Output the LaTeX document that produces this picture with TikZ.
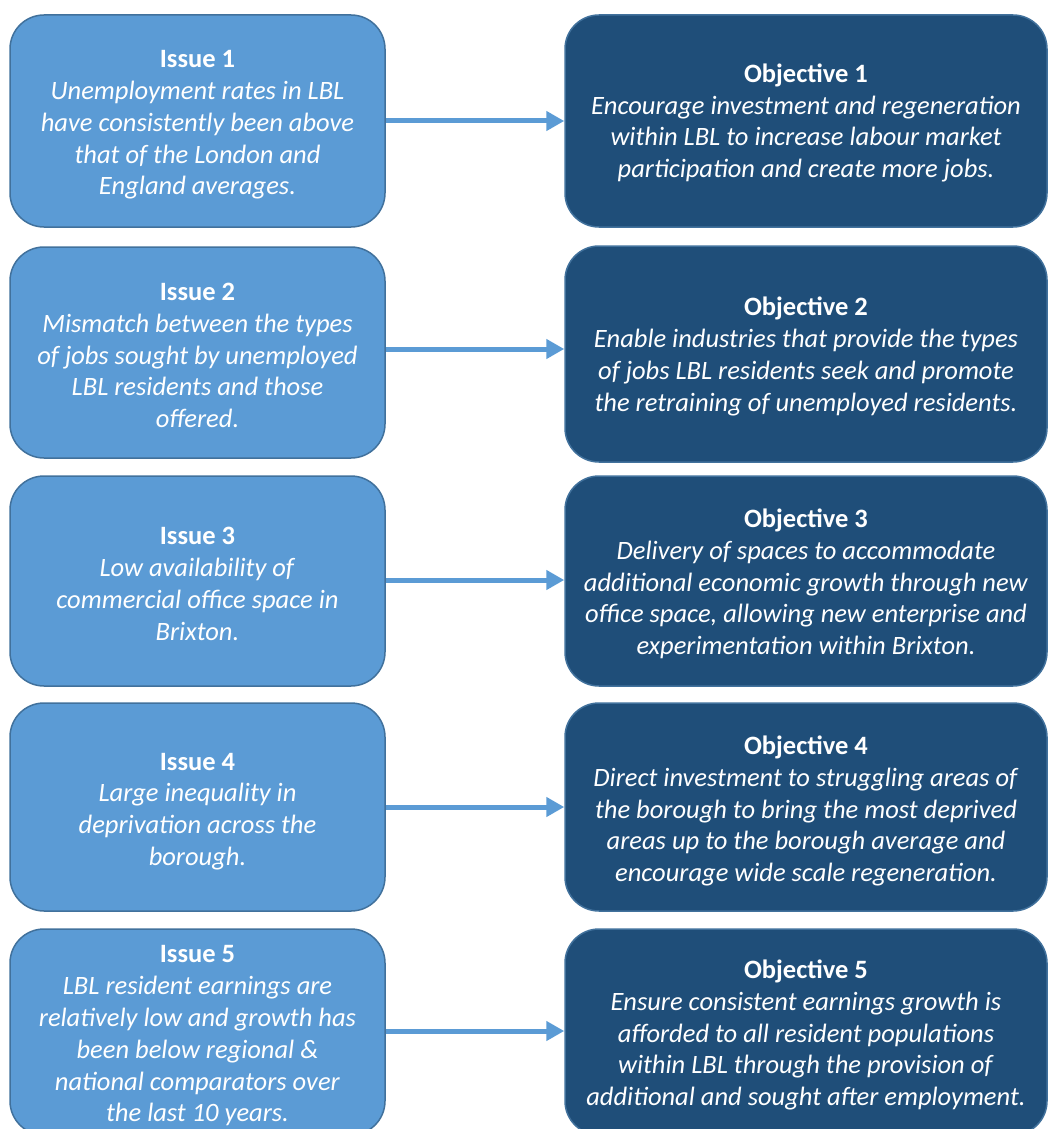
\documentclass[tikz,border=0pt]{standalone}
\usepackage{fontspec}
\setmainfont{Carlito}
\usetikzlibrary{arrows.meta}
\definecolor{issuefill}{HTML}{5B9BD5}
\definecolor{issueline}{HTML}{41719C}
\definecolor{objfill}{HTML}{1F4E79}
\definecolor{objline}{HTML}{41719C}
\tikzset{
  issuebox/.style={draw=issueline, line width=1.5pt, fill=issuefill, rounded corners=34pt,
    minimum width=375pt, inner sep=0pt},
  objbox/.style={draw=objline, line width=1.5pt, fill=objfill, rounded corners=34pt,
    minimum width=482pt, inner sep=0pt},
  boxtext/.style={text=white, align=center, inner sep=0pt,
    font=\fontsize{26.5}{31.8}\selectfont},
  link/.style={draw=issuefill, line width=5pt, -{Triangle[length=18pt,width=19pt]}}
}
\begin{document}
\begin{tikzpicture}[x=1pt,y=-1pt]
\useasboundingbox (0,0) rectangle (1048,1129);
\begin{scope}
\clip (0,0) rectangle (1048,1129);
% boxes
\node[issuebox, minimum height=212pt] (i1) at (197.5,121) {};
\node[objbox, minimum height=212pt] (o1) at (806,121) {};
\node[issuebox, minimum height=211pt] (i2) at (197.5,352.5) {};
\node[objbox, minimum height=216pt] (o2) at (806,354) {};
\node[issuebox, minimum height=210pt] (i3) at (197.5,581) {};
\node[objbox, minimum height=210pt] (o3) at (806,581) {};
\node[issuebox, minimum height=208pt] (i4) at (197.5,807) {};
\node[objbox, minimum height=208pt] (o4) at (806,807) {};
\node[issuebox, minimum height=206pt] (i5) at (197.5,1032) {};
\node[objbox, minimum height=206pt] (o5) at (806,1032) {};
% texts
\node[boxtext] (i1t) at ([yshift=-4pt]i1.center)
  {\textbf{Issue 1}\\ \textit{Unemployment rates in LBL}\\ \textit{have consistently been above}\\ \textit{that of the London and}\\ \textit{England averages.}};
\node[boxtext] (o1t) at ([yshift=-2pt]o1.center)
  {\textbf{Objective 1}\\ \textit{Encourage investment and regeneration}\\ \textit{within LBL to increase labour market}\\ \textit{participation and create more jobs.}};
\node[boxtext] (i2t) at ([yshift=-3pt]i2.center)
  {\textbf{Issue 2}\\ \textit{Mismatch between the types}\\ \textit{of jobs sought by unemployed}\\ \textit{LBL residents and those}\\ \textit{offered.}};
\node[boxtext] (o2t) at ([yshift=-2.5pt]o2.center)
  {\textbf{Objective 2}\\ \textit{Enable industries that provide the types}\\ \textit{of jobs LBL residents seek and promote}\\ \textit{the retraining of unemployed residents.}};
\node[boxtext] (i3t) at ([yshift=-3pt]i3.center)
  {\textbf{Issue 3}\\ \textit{Low availability of}\\ \textit{commercial office space in}\\ \textit{Brixton.}};
\node[boxtext] (o3t) at ([yshift=-3pt]o3.center)
  {\textbf{Objective 3}\\ \textit{Delivery of spaces to accommodate}\\ \textit{additional economic growth through new}\\ \textit{office space, allowing new enterprise and}\\ \textit{experimentation within Brixton.}};
\node[boxtext] (i4t) at ([yshift=-4.5pt]i4.center)
  {\textbf{Issue 4}\\ \textit{Large inequality in}\\ \textit{deprivation across the}\\ \textit{borough.}};
\node[boxtext] (o4t) at ([yshift=-4pt]o4.center)
  {\textbf{Objective 4}\\ \textit{Direct investment to struggling areas of}\\ \textit{the borough to bring the most deprived}\\ \textit{areas up to the borough average and}\\ \textit{encourage wide scale regeneration.}};
\node[boxtext] (i5t) at ([yshift=-4pt]i5.center)
  {\textbf{Issue 5}\\ \textit{LBL resident earnings are}\\ \textit{relatively low and growth has}\\ \textit{been below regional \&}\\ \textit{national comparators over}\\ \textit{the last 10 years.}};
\node[boxtext] (o5t) at ([yshift=-3pt]o5.center)
  {\textbf{Objective 5}\\ \textit{Ensure consistent earnings growth is}\\ \textit{afforded to all resident populations}\\ \textit{within LBL through the provision of}\\ \textit{additional and sought after employment.}};
\end{scope}
\draw[link] (i1.east) -- (o1.west);
\draw[link] ([yshift=3.5pt]i2.east) -- ([yshift=3.5pt]o2.west |- i2.east);
\draw[link] ([yshift=1pt]i3.east) -- ([yshift=1pt]o3.west);
\draw[link] (i4.east) -- (o4.west);
\draw[link] ([yshift=1pt]i5.east) -- ([yshift=1pt]o5.west);
\end{tikzpicture}
\end{document}
